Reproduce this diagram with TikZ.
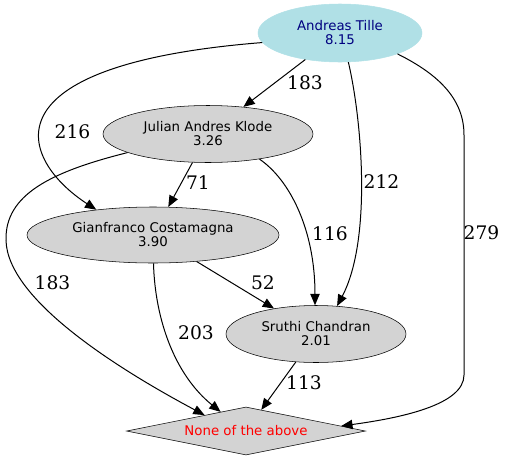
\documentclass[tikz,border=0pt]{standalone}
\usepackage{fontspec}
\setmainfont{DejaVu Serif}
\newfontfamily\nodefont{DejaVu Sans}
\usetikzlibrary{shapes.geometric,arrows.meta}
\definecolor{powderblue}{RGB}{176,224,230}
\definecolor{lightgrey}{RGB}{211,211,211}
\definecolor{navyblue}{RGB}{0,0,128}
\tikzset{
  person/.style={ellipse, draw=black, fill=lightgrey, inner sep=0pt, align=center,
    font=\nodefont\fontsize{10}{10.5}\selectfont},
  other/.style={diamond, aspect=5, draw=black, fill=lightgrey, inner sep=0pt,
    text=red, font=\nodefont\fontsize{10}{10.5}\selectfont},
  weight/.style={inner sep=0pt, font=\fontsize{14}{16}\selectfont},
  edge/.style={line width=0.75pt, -{Triangle[length=8.5pt,width=7pt]}}
}
\begin{document}
\begin{tikzpicture}[x=0.75pt,y=0.75pt,yscale=-1,xscale=1]
\useasboundingbox (0,0) rectangle (507,461);

%Shape: Ellipse
\node [person, fill=powderblue, draw=powderblue, text=navyblue, minimum width=123pt, minimum height=43.5pt] (tille) at (340,33) {Andreas Tille\\8.15};
%Shape: Ellipse
\node [person, minimum width=157.5pt, minimum height=42.75pt] (klode) at (208,134) {Julian Andres Klode\\3.26};
%Shape: Ellipse
\node [person, minimum width=189pt, minimum height=42pt] (costa) at (153,235) {Gianfranco Costamagna\\3.90};
%Shape: Ellipse
\node [person, minimum width=135pt, minimum height=42.75pt] (sruthi) at (316,334) {Sruthi Chandran\\2.01};
%Shape: Diamond
\node [other, minimum width=179.25pt, minimum height=36pt] (none) at (246,431) {None of the above};

%Straight Lines
\draw [edge] (tille) -- (klode);
\draw [edge] (klode) -- (costa);
\draw [edge] (costa) -- (sruthi);
\draw [edge] (sruthi) -- (none);

%Curves
\draw [edge] (tille.187) .. controls (-20,65) and (20,160) .. (costa.156);
\draw [edge] (tille.-74) .. controls (362,120) and (372,240) .. (sruthi.53);
\draw [edge] (tille.-20) .. controls (440,75) and (464,100) .. (464,135) -- (464,375) .. controls (464,405) and (400,418) .. (none.3);
\draw [edge] (klode.-26) .. controls (290,180) and (315,230) .. (sruthi.92);
\draw [edge] (klode.193) .. controls (50,172) and (5,195) .. (6,240) .. controls (7,300) and (120,370) .. (none.159);
\draw [edge] (costa.-89) .. controls (155,320) and (175,375) .. (none.143);

% Text Node
\node [weight] (w183a) at (305,83) {183};
% Text Node
\node [weight] (w216) at (72.5,132) {216};
% Text Node
\node [weight] (w212) at (381.5,182) {212};
% Text Node
\node [weight] (w279) at (481.5,233) {279};
% Text Node
\node [weight] (w71) at (198,183) {71};
% Text Node
\node [weight] (w116) at (330,234) {116};
% Text Node
\node [weight] (w183b) at (52.5,283) {183};
% Text Node
\node [weight] (w52) at (263,283) {52};
% Text Node
\node [weight] (w203) at (196,333) {203};
% Text Node
\node [weight] (w113) at (304,383) {113};

\end{tikzpicture}
\end{document}
